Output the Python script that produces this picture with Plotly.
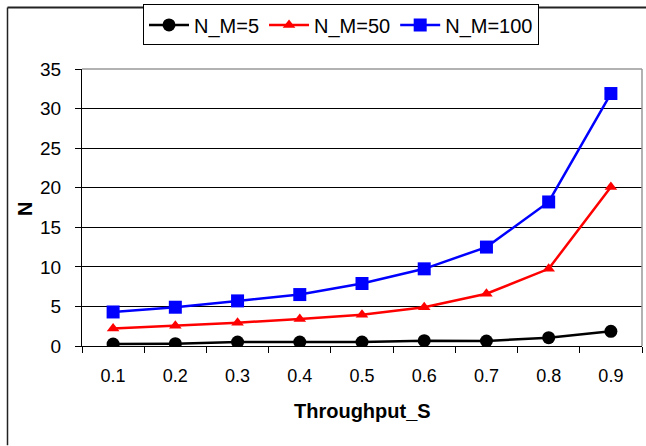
import plotly.graph_objects as go

categories = ["0.1", "0.2", "0.3", "0.4", "0.5", "0.6", "0.7", "0.8", "0.9"]
n_m5 = [0.25, 0.3, 0.5, 0.5, 0.5, 0.67, 0.63, 1.05, 1.85]
n_m50 = [2.2, 2.55, 2.95, 3.4, 3.95, 4.9, 6.6, 9.75, 20.1]
n_m100 = [4.3, 4.9, 5.7, 6.5, 7.9, 9.75, 12.5, 18.2, 31.9]
series_names = ["N_M=5", "N_M=50", "N_M=100"]
y_ticks = [0, 5, 10, 15, 20, 25, 30, 35]
x_title = "Throughput_S"
y_title = "N"

FONT = "Liberation Sans, Arial, sans-serif"

fig = go.Figure()
fig.add_trace(go.Scatter(x=categories, y=n_m5, name=series_names[0], mode="lines+markers",
                         line=dict(color="black", width=2.5),
                         marker=dict(symbol="circle", size=13, color="black")))
fig.add_trace(go.Scatter(x=categories, y=n_m50, name=series_names[1], mode="lines+markers",
                         line=dict(color="#ff0000", width=2.5),
                         marker=dict(symbol="triangle-up", size=11, color="#ff0000")))
fig.add_trace(go.Scatter(x=categories, y=n_m100, name=series_names[2], mode="lines+markers",
                         line=dict(color="#0000ff", width=2.5),
                         marker=dict(symbol="square", size=13, color="#0000ff")))

L, R, T, B = 82, 4, 67, 100
W, H = 646, 446
pw, ph = W - L - R, H - T - B

def px(x):
    return (x - L) / pw

def py(y):
    return (H - B - y) / ph

fig.update_layout(
    width=W, height=H,
    margin=dict(l=L, r=R, t=T, b=B, pad=0),
    paper_bgcolor="white", plot_bgcolor="white",
    font=dict(family=FONT, size=18, color="black"),
    showlegend=True,
    legend=dict(orientation="h", x=px(143), y=py(2), xanchor="left", yanchor="top",
                bordercolor="black", borderwidth=1, bgcolor="white",
                font=dict(family=FONT, size=20), itemwidth=40, tracegroupgap=0),
    xaxis=dict(type="category", range=[-0.5, 8.5], showgrid=False, showline=True,
               linecolor="black", linewidth=1, ticks="outside", ticklen=6,
               tickcolor="black", tickson="boundaries", ticklabelstandoff=13,
               tickfont=dict(family=FONT, size=18)),
    yaxis=dict(range=[0, 35], tickvals=y_ticks, showgrid=True, gridcolor="black",
               gridwidth=1, showline=True, linecolor="black", linewidth=1,
               ticks="outside", ticklen=6, tickcolor="black", ticklabelstandoff=10,
               zeroline=False, tickfont=dict(family=FONT, size=19)),
    annotations=[
        dict(text="<b>" + x_title + "</b>", xref="paper", yref="paper",
             x=px(362.5), y=py(411), xanchor="center", yanchor="middle",
             showarrow=False, font=dict(family=FONT, size=20, color="black")),
        dict(text="<b>" + y_title + "</b>", xref="paper", yref="paper",
             x=px(25), y=py(208), xanchor="center", yanchor="middle", textangle=-90,
             showarrow=False, font=dict(family=FONT, size=20, color="black")),
    ],
    shapes=[
        dict(type="line", xref="paper", yref="paper", x0=0, x1=1, y0=1, y1=1,
             line=dict(color="#999999", width=1.5), layer="above"),
        dict(type="line", xref="paper", yref="paper", x0=1, x1=1, y0=0, y1=1,
             line=dict(color="#999999", width=1.5), layer="above"),
        dict(type="line", xref="paper", yref="paper", x0=px(7.5), x1=px(646), y0=py(5), y1=py(5),
             line=dict(color="#222222", width=2), layer="above"),
        dict(type="line", xref="paper", yref="paper", x0=px(7.5), x1=px(7.5), y0=py(5), y1=py(446),
             line=dict(color="#222222", width=1.5), layer="above"),
    ],
)

fig.write_html("out.html")
